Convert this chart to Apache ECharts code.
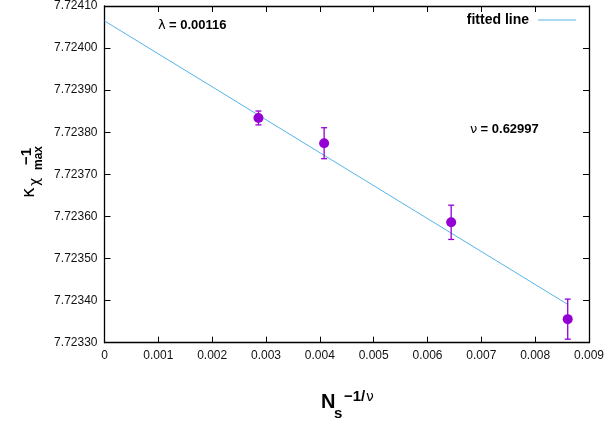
<!DOCTYPE html>
<html><head><meta charset="utf-8">
<script src="https://cdn.jsdelivr.net/npm/echarts@6/dist/echarts.min.js"></script>
<style>html,body{margin:0;padding:0;background:#fff}#c{width:607px;height:427px}</style>
</head><body><div id="c"></div>
<script>
// data
const xValues = [0.00286, 0.00408, 0.00644, 0.008605];
const yValues = [7.723834, 7.723774, 7.723586, 7.723356];
const yErrors = [0.0000165, 0.0000368, 0.0000407, 0.0000476];
const fitX = [0, 0.008605];
const fitY = [7.7240646, 7.723391];
const xTicks = [0, 0.001, 0.002, 0.003, 0.004, 0.005, 0.006, 0.007, 0.008, 0.009];
const yTicks = [7.7233, 7.7234, 7.7235, 7.7236, 7.7237, 7.7238, 7.7239, 7.7240, 7.7241];
const lambdaSym = 'λ';
const lambdaVal = '= 0.00116';
const nuSym = 'ν';
const nuVal = '= 0.62997';

const FONT = 'Liberation Sans, Arial, Helvetica, sans-serif';
const GFONT = 'DejaVu Sans, sans-serif';
const chart = echarts.init(document.getElementById('c'), null, {renderer: 'canvas'});

const axisCommon = {
  axisLine: {show: true, onZero: false, lineStyle: {color: '#000', width: 1.3}},
  axisTick: {show: true, inside: true, length: 6, lineStyle: {color: '#000', width: 1}},
  splitLine: {show: false}
};
const xFmt = v => {
  const r = Math.round(v * 1000) / 1000;
  return r === 0 ? '0' : r.toFixed(3);
};
const yFmt = v => v.toFixed(5);
const richGreek = {
  g: {fontFamily: GFONT, fontSize: 13, fontWeight: 'normal', color: '#000'},
  b: {fontFamily: FONT, fontSize: 13, fontWeight: 'bold', color: '#000'}
};

chart.setOption({
  animation: false,
  backgroundColor: '#fff',
  grid: {left: 104.5, right: 15.3, top: 4, bottom: 84.3, containLabel: false},
  xAxis: [
    Object.assign({}, axisCommon, {
      type: 'value', position: 'bottom', min: xTicks[0], max: xTicks[xTicks.length - 1], interval: 0.001,
      axisLabel: {show: true, formatter: xFmt, color: '#111', fontSize: 12, fontFamily: FONT, margin: 7}
    }),
    Object.assign({}, axisCommon, {
      type: 'value', position: 'top', min: xTicks[0], max: xTicks[xTicks.length - 1], interval: 0.001,
      axisLabel: {show: false}
    })
  ],
  yAxis: [
    Object.assign({}, axisCommon, {
      type: 'value', position: 'left', min: yTicks[0], max: yTicks[yTicks.length - 1], interval: 0.0001,
      axisLabel: {show: true, formatter: yFmt, color: '#111', fontSize: 12, fontFamily: FONT, margin: 7}
    }),
    Object.assign({}, axisCommon, {
      type: 'value', position: 'right', min: yTicks[0], max: yTicks[yTicks.length - 1], interval: 0.0001,
      axisLabel: {show: false}
    })
  ],
  legend: {
    data: [{name: 'fitted line', icon: 'rect'}], right: 26, top: 8, align: 'right', itemWidth: 38, itemHeight: 1, itemGap: 6,
    itemStyle: {color: '#56b4e9', borderWidth: 0},
    textStyle: {fontSize: 14, fontWeight: 'bold', color: '#000', fontFamily: FONT, padding: [0, 4, 0, 0]}
  },
  series: [
    {
      name: 'fitted line', type: 'line', xAxisIndex: 0, yAxisIndex: 0,
      data: fitX.map((x, i) => [x, fitY[i]]), showSymbol: false, symbol: 'none',
      lineStyle: {color: '#56b4e9', width: 1}, itemStyle: {color: '#56b4e9'}, z: 3
    },
    {
      name: 'errors', type: 'custom', xAxisIndex: 0, yAxisIndex: 0,
      data: xValues.map((x, i) => [x, yValues[i] - yErrors[i], yValues[i] + yErrors[i]]),
      renderItem: (params, api) => {
        const lo = api.coord([api.value(0), api.value(1)]);
        const hi = api.coord([api.value(0), api.value(2)]);
        const w = 3;
        const st = {stroke: '#9400d3', lineWidth: 1.3};
        return {type: 'group', children: [
          {type: 'line', shape: {x1: lo[0], y1: lo[1], x2: hi[0], y2: hi[1]}, style: st},
          {type: 'line', shape: {x1: lo[0] - w, y1: lo[1], x2: lo[0] + w, y2: lo[1]}, style: st},
          {type: 'line', shape: {x1: hi[0] - w, y1: hi[1], x2: hi[0] + w, y2: hi[1]}, style: st}
        ]};
      },
      encode: {x: 0, y: [1, 2]}, z: 4
    },
    {
      name: 'points', type: 'scatter', xAxisIndex: 0, yAxisIndex: 0,
      data: xValues.map((x, i) => [x, yValues[i]]), symbol: 'circle', symbolSize: 10,
      itemStyle: {color: '#9400d3', opacity: 1}, z: 5
    }
  ],
  graphic: [
    {type: 'text', left: 158, top: 19, style: {text: '{g|' + lambdaSym + '} {b|' + lambdaVal + '}', rich: richGreek}},
    {type: 'text', left: 470, top: 123, style: {text: '{g|' + nuSym + '} {b|' + nuVal + '}', rich: richGreek}},
    // x-axis title: N_s^{-1/nu}
    {type: 'text', x: 321, y: 412, style: {text: 'N', font: 'bold 20px ' + FONT, fill: '#000', verticalAlign: 'bottom', align: 'left'}},
    {type: 'text', x: 334, y: 421, style: {text: 's', font: 'bold 15px ' + FONT, fill: '#000', verticalAlign: 'bottom', align: 'left'}},
    {type: 'text', x: 344, y: 404, style: {text: '−1/', font: 'bold 15px ' + FONT, fill: '#000', verticalAlign: 'bottom', align: 'left'}},
    {type: 'text', x: 366, y: 404, style: {text: 'ν', font: '14px ' + GFONT, fill: '#000', verticalAlign: 'bottom', align: 'left'}},
    // y-axis title: kappa_{chi_max}^{-1}, rotated
    {type: 'text', x: 38, y: 198, rotation: Math.PI / 2, style: {text: 'κ', font: '18px ' + GFONT, fill: '#000', verticalAlign: 'bottom', align: 'left'}},
    {type: 'text', x: 42, y: 186, rotation: Math.PI / 2, style: {text: 'χ', font: '14px ' + GFONT, fill: '#000', verticalAlign: 'bottom', align: 'left'}},
    {type: 'text', x: 45, y: 170, rotation: Math.PI / 2, style: {text: 'max', font: 'bold 12px ' + FONT, fill: '#000', verticalAlign: 'bottom', align: 'left'}},
    {type: 'text', x: 34, y: 165, rotation: Math.PI / 2, style: {text: '−1', font: 'bold 15px ' + FONT, fill: '#000', verticalAlign: 'bottom', align: 'left'}}
  ]
});
</script></body></html>
